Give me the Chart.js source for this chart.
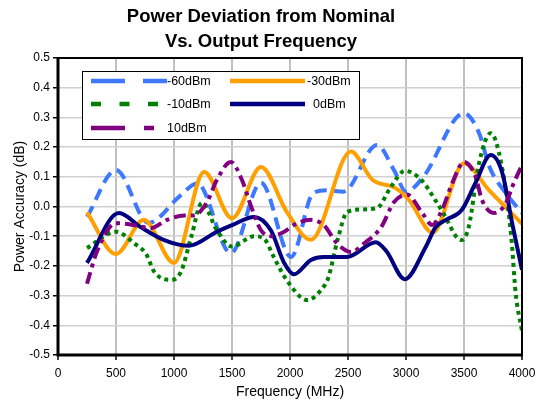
<!DOCTYPE html>
<html><head><meta charset="utf-8">
<script src="https://cdn.jsdelivr.net/npm/chart.js@4.4.0/dist/chart.umd.min.js"></script>
<style>html,body{margin:0;padding:0;background:#fff}#wrap{width:542px;height:403px;position:relative}</style>
</head><body><div id="wrap"><canvas id="c" width="542" height="403"></canvas></div>
<script>
const chartTitle = ['Power Deviation from Nominal', 'Vs. Output Frequency'];
const xTitle = 'Frequency (MHz)';
const yTitle = 'Power Accuracy (dB)';
const seriesLabels = ['-60dBm', '-30dBm', '-10dBm', '0dBm', '10dBm'];
const xTickValues = [0, 500, 1000, 1500, 2000, 2500, 3000, 3500, 4000];
const yTickValues = [-0.5, -0.4, -0.3, -0.2, -0.1, 0.0, 0.1, 0.2, 0.3, 0.4, 0.5];

const freqM60 = [250, 500, 780, 1050, 1200, 1490, 1750, 2010, 2200, 2320, 2460, 2750, 2900, 3000, 3150, 3500, 3630, 3720, 3860, 4000];
const accM60  = [-0.035, 0.123, -0.055, 0.035, 0.078, -0.157, 0.08, -0.17, 0.045, 0.055, 0.05, 0.207, 0.12, 0.05, 0.1, 0.314, 0.247, 0.133, 0.045, -0.022];

const freqM30 = [250, 500, 740, 1000, 1260, 1500, 1750, 1975, 2180, 2525, 2710, 2910, 3026, 3230, 3500, 3715, 4000];
const accM30  = [-0.02, -0.16, -0.045, -0.19, 0.116, -0.04, 0.133, -0.02, -0.112, 0.185, 0.09, 0.062, 0.022, -0.088, 0.146, 0.055, -0.058];

const freqM10 = [250, 500, 660, 760, 830, 975, 1060, 1150, 1240, 1370, 1500, 1690, 1780, 1860, 1975, 2150, 2270, 2330, 2410, 2490, 2610, 2750, 2870, 2990, 3130, 3255, 3340, 3430, 3480, 3540, 3630, 3730, 3780, 3860, 3910, 3945, 4000];
const accM10  = [-0.14, -0.085, -0.125, -0.16, -0.22, -0.247, -0.22, -0.1, 0.012, -0.08, -0.135, -0.1, -0.11, -0.17, -0.25, -0.315, -0.28, -0.24, -0.113, -0.02, -0.01, -0.005, 0.066, 0.12, 0.09, 0.02, -0.035, -0.1, -0.113, -0.07, 0.146, 0.247, 0.213, 0.055, -0.113, -0.29, -0.42];

const freqP0 = [250, 525, 715, 915, 1130, 1370, 1500, 1690, 1835, 1950, 2034, 2180, 2290, 2490, 2740, 2830, 2990, 3170, 3255, 3345, 3480, 3600, 3730, 3830, 3915, 4000];
const accP0  = [-0.19, -0.022, -0.07, -0.113, -0.132, -0.085, -0.063, -0.035, -0.08, -0.19, -0.228, -0.18, -0.17, -0.17, -0.12, -0.15, -0.245, -0.136, -0.07, -0.045, -0.012, 0.08, 0.173, 0.113, -0.056, -0.213];

const freqP10 = [250, 340, 500, 650, 800, 940, 1090, 1170, 1285, 1370, 1490, 1585, 1665, 1750, 1835, 1950, 2034, 2180, 2290, 2405, 2525, 2640, 2785, 2897, 3010, 3140, 3225, 3310, 3400, 3500, 3600, 3655, 3760, 3860, 3915, 4000];
const accP10  = [-0.26, -0.147, -0.056, -0.062, -0.073, -0.045, -0.03, -0.03, 0.015, 0.09, 0.15, 0.09, 0.0, -0.08, -0.1, -0.085, -0.062, -0.045, -0.062, -0.124, -0.153, -0.124, -0.07, 0.015, 0.04, -0.022, -0.062, -0.012, 0.08, 0.15, 0.1, 0.022, -0.022, 0.01, 0.066, 0.14];

const seriesFreqs = [freqM60, freqM30, freqM10, freqP0, freqP10];
const seriesAccs = [accM60, accM30, accM10, accP0, accP10];
const seriesColors = ['#3d78ff', '#ffa000', '#008000', '#000080', '#800080'];
const seriesDash = [[12, 7], [], [4, 4], [], [12, 5, 4, 5]];
const legendDash = [[34, 18], [], [10, 18.5], [], [34, 19, 10, 19]];

function pts(f, v) { return f.map((x, i) => ({ x: x, y: v[i] })); }

const datasets = seriesLabels.map((lab, i) => ({
  label: lab,
  data: pts(seriesFreqs[i], seriesAccs[i]),
  borderColor: seriesColors[i],
  backgroundColor: seriesColors[i],
  borderWidth: 4,
  borderDash: seriesDash[i],
  borderCapStyle: 'butt',
  pointRadius: 0,
  fill: false,
  cubicInterpolationMode: 'monotone',
  order: seriesLabels.length - i
}));

const FONT = "'Liberation Sans', Arial, sans-serif";

const framePlugin = {
  id: 'frame',
  afterDatasetsDraw(chart) {
    const a = chart.chartArea, ctx = chart.ctx;
    ctx.save();
    ctx.strokeStyle = '#000';
    ctx.lineWidth = 2;
    ctx.strokeRect(a.left, a.top, a.right - a.left, a.bottom - a.top);
    ctx.lineWidth = 3;
    ctx.beginPath();
    ctx.moveTo(a.left, a.top - 1); ctx.lineTo(a.left, a.bottom); ctx.lineTo(a.right + 1, a.bottom);
    ctx.stroke();
    ctx.restore();
  }
};

const legendPlugin = {
  id: 'boxLegend',
  afterDraw(chart) {
    const ctx = chart.ctx;
    ctx.save();
    ctx.fillStyle = '#fff';
    ctx.fillRect(82, 71, 278, 69);
    ctx.strokeStyle = '#000';
    ctx.lineWidth = 1;
    ctx.strokeRect(82.5, 71.5, 277, 68);
    const slots = [
      { x0: 91, x1: 167, tx: 167, y: 81 },
      { x0: 230, x1: 305, tx: 307, y: 81 },
      { x0: 91, x1: 167, tx: 167, y: 104 },
      { x0: 230, x1: 305, tx: 313, y: 104 },
      { x0: 91, x1: 167, tx: 167, y: 128 }
    ];
    chart.data.datasets.forEach((ds, i) => {
      const s = slots[i];
      ctx.strokeStyle = ds.borderColor;
      ctx.lineWidth = 4.5;
      ctx.lineCap = 'butt';
      ctx.setLineDash(legendDash[i]);
      ctx.beginPath();
      ctx.moveTo(s.x0, s.y); ctx.lineTo(s.x1, s.y);
      ctx.stroke();
      ctx.setLineDash([]);
      ctx.fillStyle = '#000';
      ctx.font = '12.5px ' + FONT;
      ctx.textBaseline = 'middle';
      ctx.textAlign = 'left';
      ctx.fillText(ds.label, s.tx, s.y + 1);
    });
    ctx.restore();
  }
};

new Chart(document.getElementById('c'), {
  type: 'line',
  data: { datasets: datasets },
  options: {
    responsive: false,
    animation: false,
    devicePixelRatio: 1,
    layout: { padding: { left: 0, right: 20, top: 0, bottom: 0 } },
    plugins: {
      legend: { display: false },
      tooltip: { enabled: false },
      title: {
        display: true,
        text: chartTitle,
        color: '#000',
        font: { family: FONT, size: 18.5, weight: 'bold', lineHeight: 25 / 18.5 },
        padding: { top: 4.5, bottom: 3.5 }
      }
    },
    scales: {
      x: {
        type: 'linear',
        min: xTickValues[0],
        max: xTickValues[xTickValues.length - 1],
        afterBuildTicks: s => { s.ticks = xTickValues.map(v => ({ value: v })); },
        afterFit: s => { s.height = 48; },
        ticks: { color: '#000', font: { family: FONT, size: 12 }, padding: 6, maxRotation: 0, autoSkip: false,
          callback: v => String(v) },
        grid: { color: '#c0c0c0', lineWidth: 2, tickColor: '#000', tickLength: 5, tickWidth: 1.5 },
        border: { display: false },
        title: { display: true, text: xTitle, color: '#000', font: { family: FONT, size: 14 }, padding: { top: 0, bottom: 2 } }
      },
      y: {
        min: yTickValues[0],
        max: yTickValues[yTickValues.length - 1],
        afterBuildTicks: s => { s.ticks = yTickValues.map(v => ({ value: v })); },
        afterFit: s => { s.width = 58; },
        ticks: { color: '#000', font: { family: FONT, size: 12 }, padding: 3, autoSkip: false,
          callback: v => (Math.abs(v) < 1e-9 ? 0 : v).toFixed(1) },
        grid: { color: '#d0d0d0', lineWidth: 1.5, tickColor: '#000', tickLength: 5, tickWidth: 1.5 },
        border: { display: false },
        title: { display: true, text: yTitle, color: '#000', font: { family: FONT, size: 14 }, padding: { top: 12, bottom: 0 } }
      }
    }
  },
  plugins: [framePlugin, legendPlugin]
});
</script>
</body></html>
